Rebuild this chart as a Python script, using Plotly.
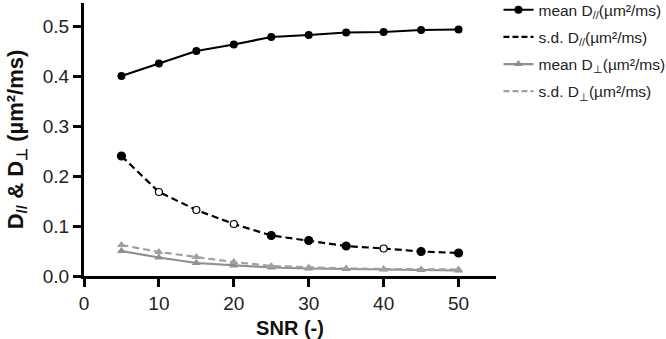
import plotly.graph_objects as go

snr = [5, 10, 15, 20, 25, 30, 35, 40, 45, 50]
mean_dpar = [0.400, 0.425, 0.450, 0.463, 0.478, 0.482, 0.487, 0.488, 0.492, 0.493]
sd_dpar = [0.240, 0.168, 0.132, 0.104, 0.081, 0.071, 0.060, 0.055, 0.049, 0.046]
mean_dperp = [0.050, 0.037, 0.026, 0.021, 0.017, 0.015, 0.014, 0.013, 0.012, 0.011]
sd_dperp = [0.062, 0.048, 0.038, 0.028, 0.020, 0.017, 0.015, 0.014, 0.013, 0.013]
sd_dpar_open = [False, True, True, True, False, False, False, True, False, False]

names = ["mean D<sub>//</sub>(µm²/ms)", "s.d. D<sub>//</sub>(µm²/ms)",
         "mean D<sub>⊥</sub>(µm²/ms)", "s.d. D<sub>⊥</sub>(µm²/ms)"]

BLACK = "black"
GREY = "#8f8f8f"
GREY2 = "#a0a0a0"

fig = go.Figure()
fig.add_trace(go.Scatter(x=snr, y=mean_dpar, name=names[0], mode="lines+markers",
                         legendgroup="a",
                         line=dict(color=BLACK, width=2.2),
                         marker=dict(symbol="circle", size=8, color=BLACK)))
fig.add_trace(go.Scatter(x=snr, y=sd_dpar, name=names[1], mode="lines+markers",
                         legendgroup="b", showlegend=False,
                         line=dict(color=BLACK, width=2.2, dash="7px,4px"),
                         marker=dict(symbol="circle",
                                     size=[7 if o else 8 for o in sd_dpar_open],
                                     color=["white" if o else BLACK for o in sd_dpar_open],
                                     opacity=1,
                                     line=dict(color=BLACK, width=1.2))))
fig.add_trace(go.Scatter(x=[None], y=[None], name=names[1], mode="lines",
                         legendgroup="b",
                         line=dict(color=BLACK, width=2.2, dash="6px,3px")))
fig.add_trace(go.Scatter(x=snr, y=mean_dperp, name=names[2], mode="lines+markers",
                         legendgroup="c",
                         line=dict(color=GREY, width=2.2),
                         marker=dict(symbol="triangle-up", size=8, color=GREY)))
fig.add_trace(go.Scatter(x=snr, y=sd_dperp, name=names[3], mode="lines+markers",
                         legendgroup="d", showlegend=False,
                         line=dict(color=GREY2, width=2.2, dash="7px,4px"),
                         marker=dict(symbol="triangle-up", size=8, color=GREY2)))
fig.add_trace(go.Scatter(x=[None], y=[None], name=names[3], mode="lines",
                         legendgroup="d",
                         line=dict(color=GREY2, width=2.2, dash="6px,3px")))

axis_font = dict(family="Liberation Sans, Arial, sans-serif", size=19, color="#222")
fig.update_layout(
    width=666, height=339,
    margin=dict(l=84, r=170, t=3, b=63, autoexpand=False),
    plot_bgcolor="white", paper_bgcolor="white",
    font=dict(family="Liberation Sans, Arial, sans-serif", color="#222"),
    showlegend=True,
    legend=dict(x=1.006, y=1.036, xanchor="left", yanchor="top",
                font=dict(size=15.5, color="#222"), itemwidth=30,
                tracegroupgap=4, bgcolor="rgba(0,0,0,0)"),
    xaxis=dict(range=[0, 55], tickvals=[0, 10, 20, 30, 40, 50], automargin=False,
               showgrid=False, zeroline=False, showline=True, linecolor="black", linewidth=3,
               ticks="outside", ticklen=8, tickwidth=3, tickcolor="black",
               tickfont=axis_font,
               title=dict(text="<b>SNR (-)</b>", font=dict(size=20, color="#111"), standoff=10)),
    yaxis=dict(range=[0, 0.546], tickvals=[0, 0.1, 0.2, 0.3, 0.4, 0.5], tickformat=".1f",
               automargin=False,
               showgrid=False, zeroline=False, showline=True, linecolor="black", linewidth=3,
               ticks="outside", ticklen=8, tickwidth=3, tickcolor="black",
               tickfont=axis_font,
               title=dict(text="<b>D<sub>//</sub> & D<sub>⊥</sub> (µm²/ms)</b>",
                          font=dict(size=22, color="#111"), standoff=14)),
)
fig.write_html("out.html", config={"displayModeBar": False},
               post_script="document.body.style.margin='0';document.body.style.overflow='hidden';")
